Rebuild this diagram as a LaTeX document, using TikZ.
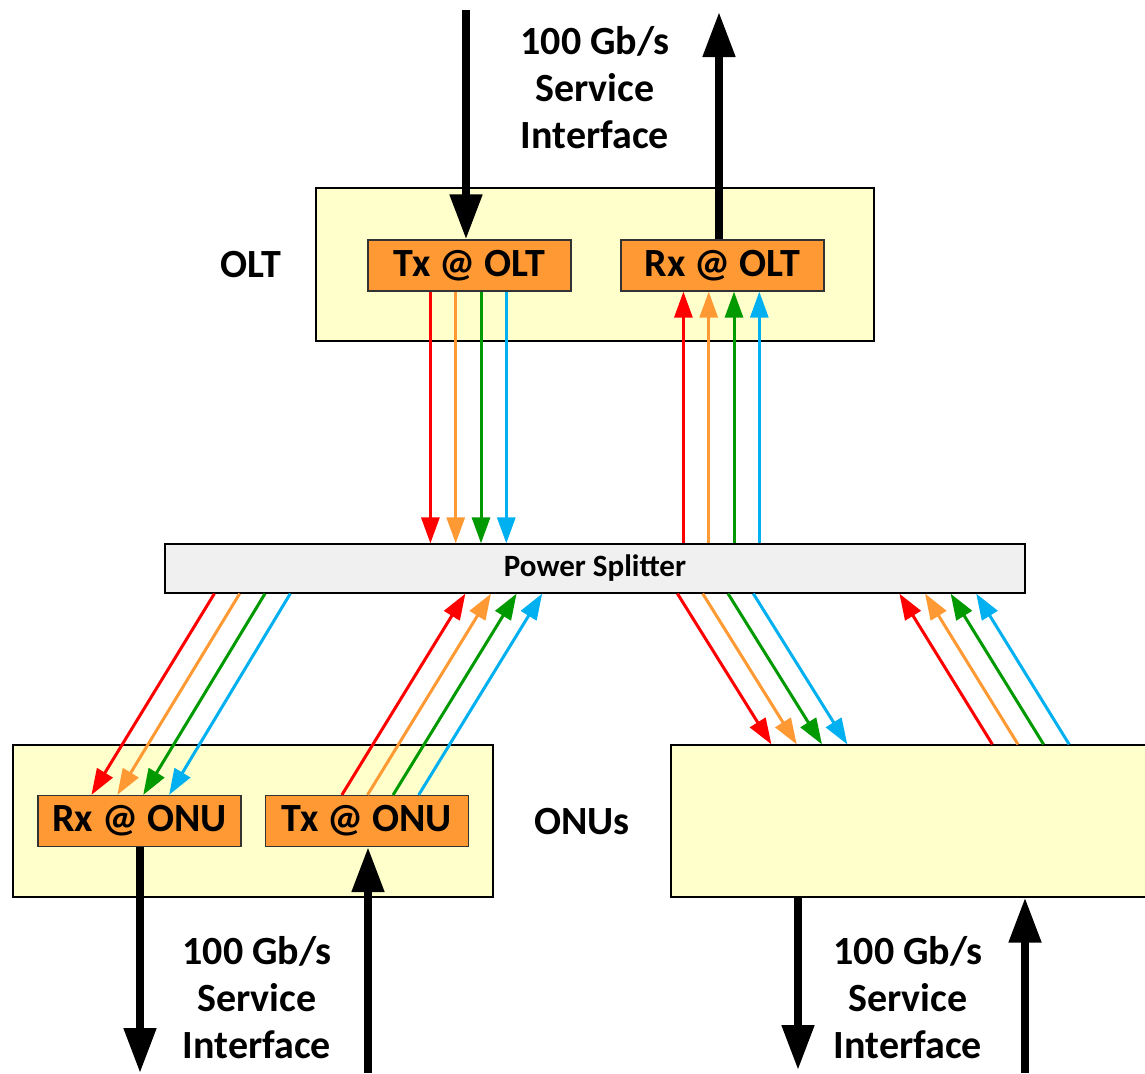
\documentclass[tikz,border=0pt]{standalone}
\usepackage{fontspec}
\setmainfont{Carlito}
\usetikzlibrary{arrows.meta,positioning,calc}

\definecolor{siteyellow}{RGB}{255,255,204}
\definecolor{unitorange}{RGB}{255,153,51}
\definecolor{splitgray}{RGB}{240,240,240}
\definecolor{lred}{RGB}{255,0,0}
\definecolor{lorange}{RGB}{255,153,51}
\definecolor{lgreen}{RGB}{0,153,0}
\definecolor{lblue}{RGB}{0,176,240}

\begin{document}
\begin{tikzpicture}[x=0.5pt,y=-0.5pt,
  every node/.style={font=\bfseries\fontsize{20}{23.5}\selectfont},
  site/.style={draw=black,line width=0.6pt,fill=siteyellow,inner sep=0pt,minimum width=240pt,minimum height=76pt},
  unit/.style={draw=black!80,line width=0.6pt,fill=unitorange,inner sep=0pt,minimum width=101.5pt,minimum height=25.5pt},
  svc/.style={line width=4pt,-{Triangle[length=22.5pt,width=15.5pt]}},
  fiber/.style={line width=1.5pt,-{Triangle[length=13pt,width=9pt]}},
  svclabel/.style={align=center}]
\useasboundingbox (0,0) rectangle (1145,1073);
% OLT side
\node[site,minimum width=279pt,minimum height=76.5pt] (olt) at (595,264.5) {};
\node[unit] (txolt) at (469.5,265.5) {Tx @ OLT};
\node[unit] (rxolt) at (722.5,265.5) {Rx @ OLT};
\node (oltname) at (251,265) {OLT};
\node[svclabel] (svctop) at (595,88) {100 Gb/s\\Service\\Interface};
% splitter
\node[draw=black,line width=0.6pt,fill=splitgray,inner sep=0pt,minimum width=430pt,minimum height=24.5pt,
  font=\bfseries\fontsize{15.5}{18}\selectfont] (split) at (595,568.5) {Power Splitter};
% ONU side
\node[site] (onua) at (253,821) {};
\node[unit] (rxonu) at (139.5,821) {Rx @ ONU};
\node[unit] (txonu) at (367,821) {Tx @ ONU};
\node (onuname) at (582,822) {ONUs};
\node[site] (onub) at (911,821) {};
\node[svclabel] (svca) at (257,998) {100 Gb/s\\Service\\Interface};
\node[svclabel] (svcb) at (908,998) {100 Gb/s\\Service\\Interface};

% service interfaces
\coordinate (intop) at (466,10);
\coordinate (outtop) at (719,12);
\coordinate (outa) at (140,1073);
\coordinate (ina) at (368,1073);
\coordinate (outb) at (798,1070);
\coordinate (inb) at (1025,1073);
\draw[svc] (intop) -- (intop |- txolt.north);
\draw[svc] (outtop |- rxolt.north) -- (outtop);
\draw[svc] (outa |- rxonu.south) -- (outa);
\draw[svc] (ina) -- (ina |- txonu.south);
\draw[svc] (outb |- onub.south) -- (outb);
\draw[svc] (inb) -- (inb |- onub.south);

% wavelengths
\foreach \col [count=\i from 0] in {lred,lorange,lgreen,lblue} {
  \coordinate (dn\i) at ($(txolt.south west)+(63+25.3*\i,0)$);
  \coordinate (up\i) at ($(rxolt.south west)+(63+25.3*\i,0)$);
  \draw[fiber,\col] (dn\i) -- (dn\i |- split.north);
  \draw[fiber,\col] (up\i |- split.north) -- (up\i);
  % left ONU
  \coordinate (sa\i) at ($(split.south west)+(50+25.3*\i,0)$);
  \coordinate (ra\i) at ($(rxonu.north west)+(54+25.9*\i,0)$);
  \coordinate (ta\i) at ($(txonu.north west)+(77+25.6*\i,0)$);
  \coordinate (sb\i) at ($(split.south west)+(301+25.6*\i,0)$);
  \draw[fiber,\col] (sa\i) -- (ra\i);
  \draw[fiber,\col] (ta\i) -- (sb\i);
  % right ONU
  \coordinate (sc\i) at ($(split.south west)+(513+25.3*\i,0)$);
  \coordinate (rb\i) at ($(onub.north west)+(101+25.3*\i,0)$);
  \coordinate (tb\i) at ($(onub.north west)+(322+25.6*\i,0)$);
  \coordinate (sd\i) at ($(split.south west)+(735+25.6*\i,0)$);
  \draw[fiber,\col] (sc\i) -- (rb\i);
  \draw[fiber,\col] (tb\i) -- (sd\i);
}
\end{tikzpicture}
\end{document}
